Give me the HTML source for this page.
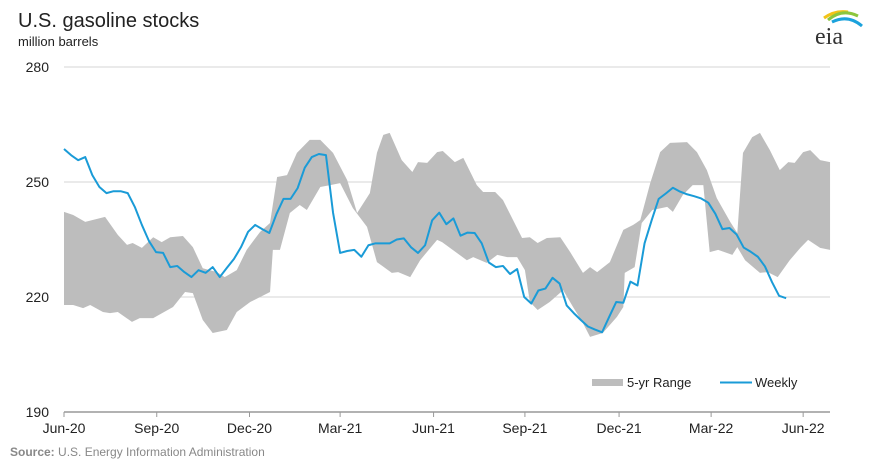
<!DOCTYPE html>
<html><head><meta charset="utf-8"><style>
body{margin:0;background:#fff;font-family:"Liberation Sans",sans-serif;}
svg{display:block}
</style></head><body>
<svg width="885" height="463" viewBox="0 0 885 463">
<text x="18" y="27" font-size="20" fill="#222">U.S. gasoline stocks</text>
<text x="18" y="46" font-size="13" fill="#222">million barrels</text>
<g>
<path d="M824 18 Q835 10 848 12" stroke="#f2c318" stroke-width="3" fill="none"/>
<path d="M828 20 Q842 8 858 16" stroke="#8cc63e" stroke-width="3" fill="none"/>
<path d="M832 22 Q848 14 862 26" stroke="#1ba2dc" stroke-width="3" fill="none"/>
<text x="815" y="44" font-size="24" font-family="Liberation Serif,serif" fill="#333">eia</text>
</g>
<g id="grid"></g>
<g id="band"></g>
<g id="line"></g>
<g id="axes"></g>
<g>
<rect x="592" y="379" width="31" height="7" fill="#bdbdbd"/>
<text x="627" y="387" font-size="13" fill="#222">5-yr Range</text>
<line x1="720" y1="382.5" x2="752" y2="382.5" stroke="#1a9bd7" stroke-width="2"/>
<text x="755" y="387" font-size="13" fill="#222">Weekly</text>
</g>
<text x="10" y="456" font-size="12" fill="#888"><tspan font-weight="bold">Source:</tspan> U.S. Energy Information Administration</text>
</svg>
<script>
const yTicks=[190,220,250,280];
const xTickLabels=["Jun-20","Sep-20","Dec-20","Mar-21","Jun-21","Sep-21","Dec-21","Mar-22","Jun-22"];
const xTickWeeks=[0,13.1,26.2,39,52.2,65.1,78.4,91.4,104.4];
const weeklyValues=[258.6,257.0,255.7,256.5,251.8,248.7,247.1,247.6,247.6,247.1,243.5,238.8,234.6,231.7,231.5,227.8,228.1,226.5,225.2,227.0,226.3,227.8,225.2,227.6,229.9,233.0,237.0,238.8,237.7,236.7,241.6,245.6,245.6,248.4,253.7,256.5,257.3,257.0,242,231.5,232,232.3,230.5,233.5,234,234,234,235,235.3,233,231.5,233.5,240,242,239,240.5,236,236.8,236.7,234,229,227.8,228.1,226,227.3,220,218.3,221.7,222.2,225,223.5,217.8,215.8,214,212.3,211.5,210.8,214.8,218.7,218.5,224,223,234,240,245.6,247,248.5,247.5,246.8,246.3,245.7,244.6,241.7,237.7,238,236.3,232.9,231.8,230.5,228,223.9,220.3,219.7];
const upperWeeks=[0,1.3,3,5.8,7.6,8.9,9.7,11,12.6,13.8,15,16.8,18.2,19.6,21.6,22.7,24.4,25.8,27.7,29.1,30.1,31.5,32.9,34.7,36.2,38,40,41.4,43.2,44.2,45.1,46,47.7,49.2,50,51.3,52.7,53.5,55.2,56.4,58.3,59.2,60.9,62,64.7,65.8,66.9,68.2,70.1,71.5,73.3,74.3,75.3,77.1,79,80.4,81.4,82.8,84.2,85.6,88,89.4,90.8,92.2,94.1,95.1,95.9,97.2,98.3,99.7,101.1,102.3,103.2,104.4,105.4,106.8,108.2];
const upperValues=[242.2,241.4,239.6,240.9,236.2,233.6,234.1,232.8,235.6,234.3,235.6,235.9,233.0,227.5,226.5,225.2,227.0,232.3,237.0,239.3,251.3,251.8,257.6,261.0,261.0,257.6,250.5,241.9,247.1,257.6,262.3,262.8,255.7,252.6,255.2,255.0,257.8,258.1,255.2,256.3,249.2,247.4,247.4,245.3,235.4,235.6,234.1,235.4,235.6,231.7,226.3,227.8,226.5,229.1,237.5,238.8,240.1,249.7,257.8,260.2,260.4,257.8,253.1,245.8,239.6,236.7,257.6,261.7,262.8,258.3,253.1,255.2,255.0,257.8,258.3,255.7,255.2];
const lowerWeeks=[0,1.3,2.7,3.7,5.5,6.5,7.6,9.6,10.7,12.6,15.4,17.1,18.2,19.6,21,23,24.4,26.3,29.1,29.5,30.5,31.9,33.3,34.3,36.2,37.6,39,40.8,42.8,44.2,46.3,47.2,48.9,50.3,52.7,53.4,56.9,57.8,59.7,61.2,62.6,64,65.1,65.8,66.9,68.6,70.5,71.9,73.3,74.3,76.1,78.1,79,79.2,80.6,81.6,83.1,85.2,86,87.4,88.8,90.3,91.2,92.4,93.6,94.4,95.1,96.2,98.3,99.4,100.8,102.5,104,105.1,106.8,108.2];
const lowerValues=[217.9,217.9,217.1,217.9,216.1,215.8,216.1,213.5,214.5,214.5,217.4,221.3,221.0,214.0,210.6,211.4,216.1,218.7,221.3,232.3,232.3,241.9,244.0,242.7,248.7,249.2,249.7,243.2,238.3,229.1,226.3,226.5,225.2,229.6,234.9,234.3,229.6,230.4,228.9,231.0,230.4,230.4,227.0,218.7,216.6,218.7,221.8,217.4,213.2,209.6,210.6,214.8,217.4,226.3,227.8,239.3,242.7,243.5,242.2,246.6,249.2,249.2,231.7,232.3,231.5,231.0,233.0,229.6,226.3,226.5,225.2,229.6,232.8,234.9,232.8,232.3];

const X0=64,WK=7.08,PLOT_R=830;
function xs(w){return X0+w*WK;}
function ys(v){return 412-(v-190)*(345/90);}
const NS="http://www.w3.org/2000/svg";
function mk(tag,parent,attrs){const e=document.createElementNS(NS,tag);for(const k in attrs)e.setAttribute(k,attrs[k]);parent.appendChild(e);return e;}
const grid=document.getElementById('grid'),axes=document.getElementById('axes');
yTicks.forEach(v=>{
  if(v>190){const g=mk('line',grid,{x1:X0,x2:PLOT_R,y1:ys(v),y2:ys(v),stroke:'#d6d6d6','stroke-width':1});
  
  }
  const t=mk('text',axes,{x:49,y:ys(v)+5,'font-size':14,'text-anchor':'end',fill:'#222'});
  t.textContent=v;
  
  
});
const ax=mk('line',axes,{x1:X0,x2:PLOT_R,y1:412,y2:412,stroke:'#999','stroke-width':1.5});


xTickLabels.forEach((lab,i)=>{
  const x=xs(xTickWeeks[i]);
  const tk=mk('line',axes,{x1:x,x2:x,y1:412,y2:417,stroke:'#999'});
  
  
  const t=mk('text',axes,{x:x,y:433,'font-size':14,'text-anchor':'middle',fill:'#222'});
  t.textContent=lab;
  
  
});
let pts=upperWeeks.map((w,i)=>xs(w)+','+ys(upperValues[i]));
for(let i=lowerWeeks.length-1;i>=0;i--)pts.push(xs(lowerWeeks[i])+','+ys(lowerValues[i]));
const band=mk('polygon',document.getElementById('band'),{points:pts.join(' '),fill:'#bdbdbd'});


const lp=weeklyValues.map((v,i)=>xs(i)+','+ys(v)).join(' ');
const line=mk('polyline',document.getElementById('line'),{points:lp,fill:'none',stroke:'#1a9bd7','stroke-width':2,'stroke-linejoin':'round'});


</script>
</body></html>
